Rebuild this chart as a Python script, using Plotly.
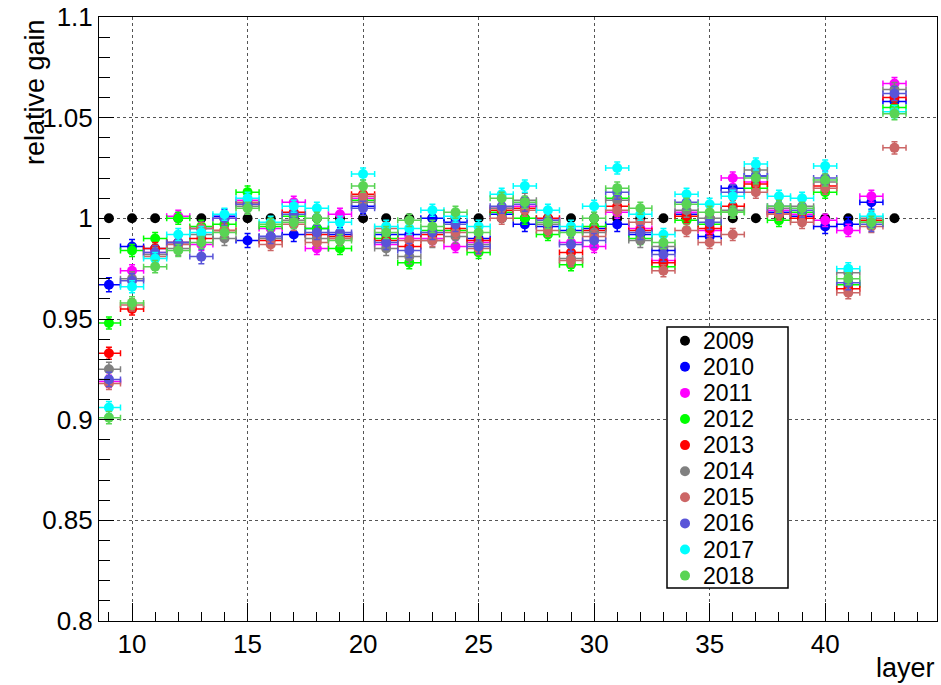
import plotly.graph_objects as go

layers = list(range(9, 44))

years = ["2009", "2010", "2011", "2012", "2013", "2014", "2015", "2016", "2017", "2018"]
colors = ["#000000", "#0000ff", "#ff00ff", "#00ff00", "#ff0000", "#808080",
          "#cc6666", "#5954d8", "#00ffff", "#59d454"]
err_y = [0.0, 0.0035, 0.003, 0.003, 0.003, 0.0035, 0.003, 0.0035, 0.003, 0.003]

g2009 = [1.0] * 35
g2010 = [0.967, 0.986, 0.985, 0.988, 0.995, 1.001, 0.989, 0.991, 0.992, 0.995, 0.992, 1.006,
         0.992, 0.992, 1.000, 0.998, 0.990, 1.002, 0.997, 0.996, 0.994, 0.995, 0.997, 0.992,
         0.984, 1.002, 0.991, 1.015, 1.021, 1.003, 1.001, 0.996, 0.997, 1.008, 1.058]
g2011 = [0.919, 0.974, 0.983, 1.001, 0.987, 1.000, 1.009, 0.995, 1.008, 0.985, 1.002, 1.010,
         0.987, 0.990, 0.990, 0.986, 0.988, 1.005, 1.006, 0.999, 0.988, 0.986, 1.003, 0.995,
         0.979, 1.003, 0.994, 1.020, 1.018, 1.004, 1.002, 0.999, 0.994, 1.011, 1.067]
g2012 = [0.948, 0.984, 0.990, 1.000, 0.996, 0.997, 1.013, 0.996, 1.001, 0.995, 0.985, 1.009,
         0.990, 0.978, 0.994, 0.994, 0.983, 1.003, 1.000, 0.992, 0.977, 0.996, 1.010, 0.990,
         0.976, 0.999, 0.997, 1.003, 1.015, 0.999, 1.003, 1.013, 0.967, 0.998, 1.055]
g2013 = [0.933, 0.955, 0.985, 0.988, 0.990, 0.994, 1.007, 0.989, 1.003, 0.992, 0.991, 1.012,
         0.989, 0.986, 0.992, 0.995, 0.989, 1.004, 1.005, 1.000, 0.983, 0.994, 1.006, 0.994,
         0.978, 1.001, 0.995, 1.006, 1.017, 1.002, 1.000, 1.016, 0.965, 0.999, 1.060]
g2014 = [0.925, 0.970, 0.982, 0.985, 0.992, 0.990, 1.006, 0.990, 0.999, 0.990, 0.990, 1.008,
         0.985, 0.981, 0.989, 0.991, 0.987, 1.005, 1.009, 0.997, 0.980, 0.993, 1.009, 0.989,
         0.986, 1.004, 1.000, 1.004, 1.024, 1.005, 1.006, 1.018, 0.973, 1.000, 1.064]
g2015 = [0.918, 0.957, 0.981, 0.987, 0.995, 0.994, 1.008, 0.987, 0.997, 0.988, 0.990, 1.011,
         0.995, 0.989, 0.989, 0.993, 0.985, 1.000, 1.004, 0.994, 0.979, 0.991, 1.004, 0.998,
         0.974, 0.994, 0.988, 0.992, 1.013, 1.002, 0.998, 1.015, 0.963, 0.996, 1.035]
g2016 = [0.920, 0.969, 0.983, 0.988, 0.981, 1.000, 1.007, 0.991, 1.002, 0.993, 0.993, 1.005,
         0.988, 0.984, 0.993, 0.997, 0.986, 1.006, 1.007, 0.999, 0.987, 0.989, 1.013, 0.993,
         0.982, 1.008, 0.998, 1.013, 1.021, 1.006, 1.004, 1.020, 0.968, 0.997, 1.062]
g2017 = [0.906, 0.966, 0.980, 0.992, 0.993, 1.002, 1.010, 0.998, 1.006, 1.005, 0.998, 1.022,
         0.996, 0.995, 1.004, 1.001, 0.996, 1.012, 1.016, 1.004, 0.996, 1.006, 1.025, 1.002,
         0.992, 1.012, 1.007, 1.011, 1.027, 1.011, 1.010, 1.026, 0.975, 1.001, 1.053]
g2018 = [0.901, 0.958, 0.976, 0.984, 0.988, 0.993, 1.005, 0.997, 0.998, 1.000, 0.989, 1.016,
         0.993, 0.999, 0.996, 1.003, 0.993, 1.010, 1.008, 0.998, 0.993, 1.000, 1.015, 1.005,
         0.988, 1.007, 1.003, 1.003, 1.020, 1.006, 1.005, 1.019, 0.970, 0.998, 1.052]

series = [g2009, g2010, g2011, g2012, g2013, g2014, g2015, g2016, g2017, g2018]

FONT = "Liberation Sans, Arial, sans-serif"
W, H = 941, 685
ML, MR, MT, MB = 99, 4, 17, 64
PW, PH = W - ML - MR, H - MT - MB


def px_x(p):
    return (p - ML) / PW


def px_y(p):
    return (H - MB - p) / PH


fig = go.Figure()
for yr, col, vals, e in zip(years, colors, series, err_y):
    has_err = e > 0
    fig.add_trace(go.Scatter(
        x=layers, y=vals, mode="markers", name=yr, showlegend=False,
        marker=dict(color=col, size=10, symbol="circle"),
        error_x=dict(type="constant", value=0.5, color=col, thickness=1.5, width=3,
                     visible=has_err),
        error_y=dict(type="constant", value=e, color=col, thickness=1.5, width=3,
                     visible=has_err),
    ))

fig.update_layout(
    width=W, height=H,
    margin=dict(l=ML, r=MR, t=MT, b=MB, autoexpand=False),
    paper_bgcolor="white", plot_bgcolor="white",
    font=dict(family=FONT, color="black", size=26),
    showlegend=False,
)

fig.update_xaxes(
    range=[8.57, 44.84], tick0=10, dtick=5,
    ticks="inside", ticklen=18, tickwidth=1, tickcolor="black",
    minor=dict(ticks="inside", dtick=1, tick0=10, ticklen=9, tickcolor="black", showgrid=False),
    showline=True, linecolor="black", linewidth=1, mirror=True,
    showgrid=True, gridcolor="#555555", griddash="dot", gridwidth=1,
    zeroline=False, automargin=False,
    tickfont=dict(size=26, family=FONT),
)
fig.update_yaxes(
    range=[0.8, 1.1], tick0=0.8, dtick=0.05,
    ticks="inside", ticklen=15, tickwidth=1, tickcolor="black",
    minor=dict(ticks="inside", dtick=0.01, ticklen=11, tickcolor="black", showgrid=False),
    showline=True, linecolor="black", linewidth=1, mirror=True,
    showgrid=True, gridcolor="#555555", griddash="dot", gridwidth=1,
    zeroline=False, automargin=False,
    tickfont=dict(size=26, family=FONT),
)

fig.add_annotation(
    text="relative gain", xref="paper", yref="paper",
    x=px_x(35), y=1.0, xanchor="center", yanchor="top", textangle=-90,
    showarrow=False, font=dict(size=27, family=FONT, color="black"),
)
fig.add_annotation(
    text="layer", xref="paper", yref="paper",
    x=1.0, y=px_y(668), xanchor="right", yanchor="middle",
    showarrow=False, font=dict(size=27, family=FONT, color="black"),
)

# legend box (ROOT TLegend style)
fig.add_shape(type="rect", xref="paper", yref="paper",
              x0=px_x(667), x1=px_x(788), y0=px_y(588), y1=px_y(327),
              line=dict(color="black", width=1.5), fillcolor="white", layer="above")
for i, (yr, col) in enumerate(zip(years, colors)):
    yc = px_y(340.7 + 26.1 * i)
    fig.add_shape(type="circle", xref="paper", yref="paper",
                  xsizemode="pixel", ysizemode="pixel",
                  xanchor=px_x(685), yanchor=yc,
                  x0=-5, x1=5, y0=-5, y1=5,
                  fillcolor=col, line=dict(color=col, width=0), layer="above")
    fig.add_annotation(text=yr, xref="paper", yref="paper",
                       x=px_x(701), y=yc, xanchor="left", yanchor="middle",
                       showarrow=False, font=dict(size=23, family=FONT, color="black"))

fig.write_html("out.html",
               config={"displayModeBar": False},
               post_script="document.body.style.margin='0';document.body.style.padding='0';")
